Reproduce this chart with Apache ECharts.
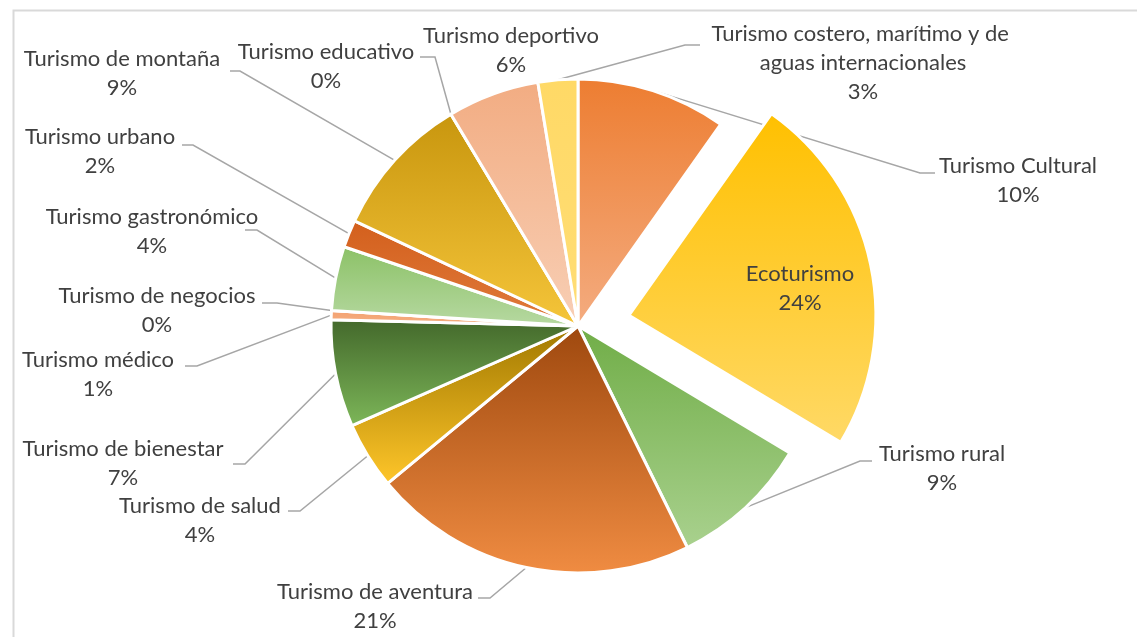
<!DOCTYPE html>
<html><head><meta charset="utf-8">
<script src="https://cdn.jsdelivr.net/npm/echarts@6/dist/echarts.min.js"></script>
<style>html,body{margin:0;padding:0;background:#fff}#c{width:1137px;height:637px}</style>
</head><body><div id="c"></div>
<script>
// ---- data ----
const categories = [
  'Turismo Cultural', 'Ecoturismo', 'Turismo rural', 'Turismo de aventura',
  'Turismo de salud', 'Turismo de bienestar', 'Turismo médico', 'Turismo de negocios',
  'Turismo gastronómico', 'Turismo urbano', 'Turismo de montaña', 'Turismo educativo',
  'Turismo deportivo', 'Turismo costero, marítimo y de aguas internacionales'
];
const values = [9.8, 23.8, 9.1, 21.3, 4.4, 7.0, 0.6, 0, 4.2, 1.8, 9.4, 0, 6.0, 2.6];
const explodedIndex = 1;

// ---- styles (gradient top -> bottom per slice) ----
const colorsTop = ['#ED7D31', '#FFC000', '#70AD47', '#9E480E', '#A07800', '#43682B',
  '#F4A070', '#ED7D31', '#8BC166', '#D35F1C', '#C8960E', '#F4B183', '#F2AC82', '#FFD966'];
const colorsBottom = ['#F4AC80', '#FFD966', '#A9D18E', '#F08C42', '#FFC62A', '#7DB759',
  '#F4B183', '#F4B183', '#B7D9A2', '#E07B3C', '#F5C53A', '#F8CBAD', '#F8CFB5', '#FFDD75'];

// ---- label layout: [centerX, centerY, elbowX, endX, lineY] ----
const labelSpots = [
  [1018, 180, 920, 935, 173],
  [800, 288],
  [942, 468, 860, 872, 461],
  [375, 606, 490, 478, 598],
  [200, 520, 300, 288, 511],
  [123, 463, 245, 233, 464],
  [98, 374, 197, 185, 366],
  [157, 310, 277, 262, 303],
  [152, 231, 257, 245, 230],
  [100, 151, 193, 182, 145],
  [122, 73, 240, 230, 71],
  [326, 66, 435, 420, 57],
  [511, 50],
  [863, 63, 685, 700, 45]
];
const CX = 578, CY = 326, R = 247, OFFSET = 52;

const total = values.reduce((a, b) => a + b, 0);
const cum = [];
values.reduce((acc, v, i) => { cum[i] = acc; return acc + v; }, 0);
function midAngle(i) { return (cum[i] + values[i] / 2) / total * 2 * Math.PI; }
function edgePoint(i) {
  const th = midAngle(i);
  return [CX + R * Math.sin(th), CY - R * Math.cos(th)];
}

const FONT = 'Lato';
const labelBase = {
  show: true,
  fontFamily: FONT,
  fontSize: 22,
  lineHeight: 29,
  color: '#404040',
  align: 'center',
  formatter: p => p.name + '\n' + Math.round(p.value / total * 100) + '%'
};
function layoutFn(p) {
  const i = p.dataIndex;
  const s = labelSpots[i];
  const res = { x: s[0], y: s[1], align: 'center', verticalAlign: 'middle' };
  if (s.length > 2) {
    res.labelLinePoints = [edgePoint(i), [s[2], s[4]], [s[3], s[4]]];
  }
  return res;
}

// main series: coloured slices (exploded slice's label is drawn by the overlay)
const mainData = categories.map((name, i) => {
  const item = {
    name: name,
    value: values[i],
    itemStyle: {
      color: {
        type: 'linear', x: 0, y: 0, x2: 0, y2: 1,
        colorStops: [{ offset: 0, color: colorsTop[i] }, { offset: 1, color: colorsBottom[i] }]
      }
    }
  };
  if (i === explodedIndex) {
    item.selected = true;
    item.label = { show: false };
  }
  if (labelSpots[i].length < 3) item.labelLine = { show: false };
  if (i === 13) item.label = { width: 330, overflow: 'break' };
  return item;
});
// overlay series: transparent, carries only the exploded slice's inside label
const overlayData = categories.map((name, i) => ({
  name: name,
  value: values[i],
  itemStyle: { color: 'rgba(0,0,0,0)', borderWidth: 0 },
  label: { show: i === explodedIndex },
  labelLine: { show: false }
}));

const chart = echarts.init(document.getElementById('c'), null, { renderer: 'canvas' });
chart.setOption({
  animation: false,
  backgroundColor: '#ffffff',
  graphic: [{
    type: 'rect', left: 11, top: 8,
    shape: { width: 1200, height: 700 },
    style: { fill: 'none', stroke: '#d9d9d9', lineWidth: 2 },
    silent: true
  }],
  series: [{
    type: 'pie',
    center: [CX, CY],
    radius: R,
    startAngle: 90,
    clockwise: true,
    selectedMode: 'single',
    selectedOffset: OFFSET,
    avoidLabelOverlap: false,
    itemStyle: { borderColor: '#ffffff', borderWidth: 3 },
    emphasis: { disabled: true },
    label: labelBase,
    labelLine: { show: true, lineStyle: { color: '#A6A6A6', width: 1.5 } },
    labelLayout: layoutFn,
    data: mainData
  }, {
    type: 'pie',
    z: 5,
    silent: true,
    center: [CX, CY],
    radius: R,
    startAngle: 90,
    clockwise: true,
    avoidLabelOverlap: false,
    emphasis: { disabled: true },
    label: labelBase,
    labelLayout: layoutFn,
    data: overlayData
  }]
});
</script>
</body></html>
